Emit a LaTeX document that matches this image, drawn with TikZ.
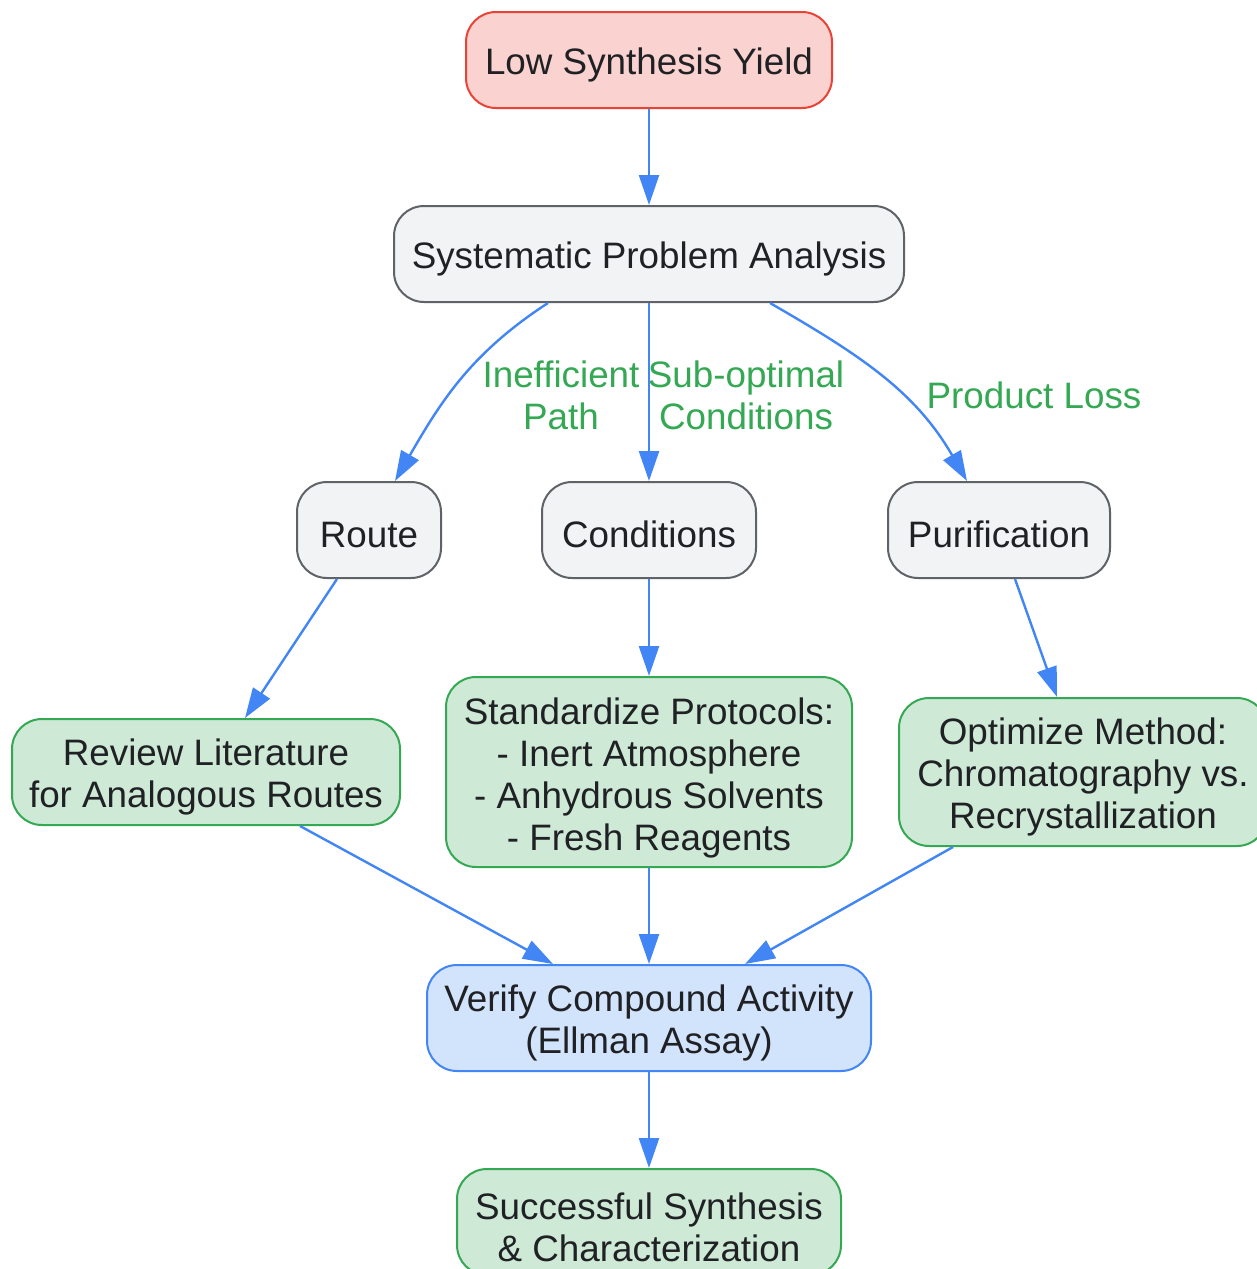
\documentclass[tikz,border=0pt]{standalone}
\usepackage{fontspec}
\setmainfont{Liberation Sans}
\usepackage{tikz}
\usepackage{xcolor}
\usetikzlibrary{arrows.meta}

\definecolor{txt}{HTML}{202124}
\definecolor{lnblue}{HTML}{4285F4}
\definecolor{lbgreen}{HTML}{34A853}
\definecolor{redfill}{HTML}{FAD2CF}
\definecolor{redline}{HTML}{EA4335}
\definecolor{greyfill}{HTML}{F1F3F4}
\definecolor{greyline}{HTML}{5F6368}
\definecolor{greenfill}{HTML}{CEEAD6}
\definecolor{bluefill}{HTML}{D2E3FC}

\tikzset{
	box/.style={rounded corners=15pt, line width=1pt, inner sep=0pt, align=center,
		text=txt, font=\fontsize{18.4}{21}\selectfont, text height=18pt},
	twolines/.style={text height=39.5pt},
	threelines/.style={text height=60.5pt},
	fourlines/.style={text height=82pt},
	startbox/.style={box, draw=redline, fill=redfill},
	greybox/.style={box, draw=greyline, fill=greyfill},
	fixbox/.style={box, draw=lbgreen, fill=greenfill},
	checkbox/.style={box, draw=lnblue, fill=bluefill},
	flow/.style={draw=lnblue, line width=1.2pt, -{Triangle[length=15pt,width=10pt]}},
	edgelabel/.style={text=lbgreen, align=center, inner sep=0pt, font=\fontsize{18.4}{21}\selectfont}
}

\begin{document}
\begin{tikzpicture}[x=0.5pt, y=-0.5pt]
		\useasboundingbox (0,0) rectangle (1257,1269);
		\node [startbox, minimum width=183pt, minimum height=48pt] (low) at (649,60) {Low Synthesis Yield};
		\node [greybox, minimum width=255pt, minimum height=48pt] (sys) at (649,254) {Systematic Problem Analysis};
		\node [greybox, minimum width=72pt, minimum height=48pt] (route) at (369,530) {Route};
		\node [greybox, minimum width=107pt, minimum height=48pt] (cond) at (649,530) {Conditions};
		\node [greybox, minimum width=111pt, minimum height=48pt] (purif) at (999,530) {Purification};
		\node [fixbox, twolines, minimum width=194pt, minimum height=53pt] (review) at (206,772) {Review Literature\\for Analogous Routes};
		\node [fixbox, fourlines, minimum width=203pt, minimum height=95pt] (protocols) at (649,772) {Standardize Protocols:\\- Inert Atmosphere\\- Anhydrous Solvents\\- Fresh Reagents};
		\node [fixbox, threelines, minimum width=184pt, minimum height=74pt] (optimize) at (1083,772) {Optimize Method:\\Chromatography vs.\\Recrystallization};
		\node [checkbox, twolines, minimum width=222pt, minimum height=53pt] (verify) at (649,1018) {Verify Compound Activity\\(Ellman Assay)};
		\node [fixbox, twolines, minimum width=192pt, minimum height=53pt] (success) at (649,1222) {Successful Synthesis\\\& Characterization};

		\node [edgelabel] (lbpath) at (561,395) {Inefficient\\Path};
		\node [edgelabel] (lbcond) at (746,395) {Sub-optimal\\Conditions};
		\node [edgelabel] (lbloss) at (1034,395) {Product Loss};

		\draw [flow] (low) -- (sys);
		\draw [flow] ([xshift=-50.5pt]sys.south) to [out=213, in=60] ([xshift=13pt]route.north);
		\draw [flow] (sys) -- (cond);
		\draw [flow] ([xshift=60.5pt]sys.south) to [out=-30, in=120] ([xshift=-16pt]purif.north);
		\draw [flow] ([xshift=-16pt]route.south) -- ([xshift=19.5pt]review.north);
		\draw [flow] (cond) -- (protocols);
		\draw [flow] ([xshift=8pt]purif.south) -- ([xshift=-13pt]optimize.north);
		\draw [flow] ([xshift=47pt]review.south) -- ([xshift=-48pt]verify.north);
		\draw [flow] (protocols) -- (verify);
		\draw [flow] ([xshift=-65pt]optimize.south) -- ([xshift=48pt]verify.north);
		\draw [flow] (verify) -- (success);
\end{tikzpicture}
\end{document}
